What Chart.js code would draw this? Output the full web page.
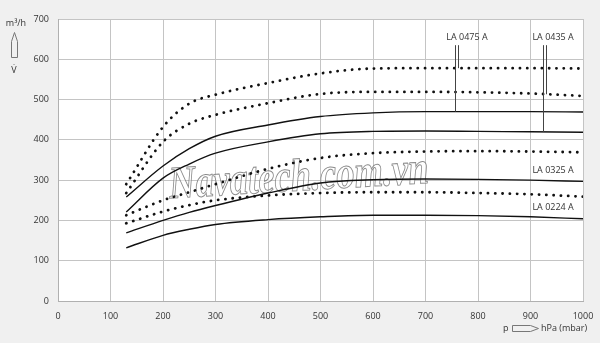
<!DOCTYPE html>
<html>
<head>
<meta charset="utf-8">
<script src="https://cdn.jsdelivr.net/npm/chart.js@4/dist/chart.umd.min.js"></script>
<style>
  html, body { margin: 0; padding: 0; background: #f0f0f0; }
  #wrap { width: 600px; height: 343px; position: relative; }
</style>
</head>
<body>
<div id="wrap"><canvas id="c" width="600" height="343"></canvas></div>
<script>
// ---- data ----
const pressure   = [130, 200, 250, 300, 400, 500, 600, 700, 800, 900, 1000];
const la0475Max  = [290, 432, 490, 512, 541, 565, 577, 578, 578, 578, 577];
const la0435Max  = [268, 395, 440, 462, 491, 514, 519, 519, 518, 515, 509];
const la0475     = [258, 335, 378, 409, 437, 458, 467, 470, 470, 470, 469];
const la0435     = [221, 305, 340, 367, 395, 415, 421, 422, 421, 420, 419];
const la0325Max  = [213, 250, 270, 290, 328, 355, 367, 371, 372, 371, 369];
const la0224Max  = [193, 222, 238, 250, 262, 268, 270, 270, 268, 265, 259];
const la0325     = [169, 200, 220, 237, 268, 293, 301, 303, 302, 300, 297];
const la0224     = [132, 163, 178, 190, 202, 209, 213, 213, 212, 209, 204];

const xTicks = [0, 100, 200, 300, 400, 500, 600, 700, 800, 900, 1000];
const yTicks = [0, 100, 200, 300, 400, 500, 600, 700];

const yUnit = "m³/h";
const ySymbol = "V̇";
const xSymbol = "p";
const xUnit = "hPa (mbar)";
const watermark = "Navatech.com.vn";

// callouts: label, label x (hPa), label y (m³/h), leader lines [x, series]
const callouts = [
  { text: "LA 0475 A", x: 779, y: 653, leaders: [[756, la0475], [762, la0475Max]] },
  { text: "LA 0435 A", x: 943, y: 653, leaders: [[924, la0435], [930, la0435Max]] },
  { text: "LA 0325 A", x: 943, y: 325, leaders: [] },
  { text: "LA 0224 A", x: 943, y: 233, leaders: [] }
];

function pts(vals) { return pressure.map((p, i) => ({ x: p, y: vals[i] })); }
function valueAt(series, x) {
  for (let i = 0; i < pressure.length - 1; i++) {
    if (x >= pressure[i] && x <= pressure[i + 1]) {
      const t = (x - pressure[i]) / (pressure[i + 1] - pressure[i]);
      return series[i] + t * (series[i + 1] - series[i]);
    }
  }
  return series[series.length - 1];
}

const dotted = { borderColor: "#111", borderWidth: 2.8, borderDash: [0.1, 7.2], borderCapStyle: "round", pointRadius: 0, fill: false, cubicInterpolationMode: "monotone" };
const solid  = { borderColor: "#111", borderWidth: 1.4, pointRadius: 0, fill: false, cubicInterpolationMode: "monotone" };

const FONT = "'Open Sans', 'Noto Sans', sans-serif";

const decor = {
  id: "decor",
  beforeDraw(chart) {
    const { ctx, chartArea: a } = chart;
    ctx.save();
    ctx.fillStyle = "#ffffff";
    ctx.fillRect(a.left, a.top, a.right - a.left, a.bottom - a.top);
    ctx.restore();
  },
  beforeDatasetsDraw(chart) {
    const { ctx, scales: { x, y } } = chart;
    ctx.save();
    // watermark
    ctx.font = "italic bold 46px 'Liberation Serif', 'DejaVu Serif', serif";
    ctx.textBaseline = "alphabetic";
    ctx.textAlign = "left";
    const x0 = x.getPixelForValue(213), x1 = x.getPixelForValue(708);
    const w = ctx.measureText(watermark).width;
    ctx.translate(x0, y.getPixelForValue(255));
    ctx.rotate(-0.06);
    ctx.scale((x1 - x0) / w, 1);
    ctx.fillStyle = "rgba(255,255,255,0.55)";
    ctx.fillText(watermark, 0, 0);
    ctx.strokeStyle = "rgba(110,110,110,0.8)";
    ctx.lineWidth = 1;
    ctx.strokeText(watermark, 0, 0);
    ctx.restore();
  },
  afterDatasetsDraw(chart) {
    const { ctx, scales: { x, y } } = chart;
    ctx.save();
    ctx.font = "9px " + FONT;
    ctx.fillStyle = "#333";
    ctx.textAlign = "center";
    ctx.textBaseline = "middle";
    ctx.strokeStyle = "#444";
    ctx.lineWidth = 1;
    callouts.forEach(c => {
      ctx.fillText(c.text, x.getPixelForValue(c.x), y.getPixelForValue(c.y));
      c.leaders.forEach(([lx, s]) => {
        const px = Math.round(x.getPixelForValue(lx)) + 0.5;
        ctx.beginPath();
        ctx.moveTo(px, y.getPixelForValue(c.y - 18));
        ctx.lineTo(px, y.getPixelForValue(valueAt(s, lx)));
        ctx.stroke();
      });
    });
    ctx.restore();
  },
  afterDraw(chart) {
    const { ctx } = chart;
    ctx.save();
    ctx.fillStyle = "#333";
    ctx.font = "9px " + FONT;
    ctx.textBaseline = "middle";
    ctx.textAlign = "center";
    // y axis title
    ctx.fillText(yUnit, 16, 23);
    ctx.fillText(ySymbol, 14, 70);
    // up arrow outline
    ctx.strokeStyle = "#777";
    ctx.lineWidth = 1;
    ctx.beginPath();
    ctx.moveTo(11.5, 57.5); ctx.lineTo(11.5, 41.5); ctx.lineTo(14.5, 32.5);
    ctx.lineTo(17.5, 41.5); ctx.lineTo(17.5, 57.5); ctx.closePath();
    ctx.stroke();
    // x axis title
    ctx.textAlign = "left";
    ctx.fillText(xSymbol, 503, 328);
    ctx.beginPath();
    ctx.moveTo(512.5, 325.5); ctx.lineTo(530.5, 325.5); ctx.lineTo(538.5, 328.5);
    ctx.lineTo(530.5, 331.5); ctx.lineTo(512.5, 331.5); ctx.closePath();
    ctx.stroke();
    ctx.fillText(xUnit, 541, 328);
    ctx.restore();
  }
};

new Chart(document.getElementById("c"), {
  type: "line",
  data: {
    datasets: [
      { label: "LA 0475 A max", data: pts(la0475Max), ...dotted },
      { label: "LA 0435 A max", data: pts(la0435Max), ...dotted },
      { label: "LA 0475 A", data: pts(la0475), ...solid },
      { label: "LA 0435 A", data: pts(la0435), ...solid },
      { label: "LA 0325 A max", data: pts(la0325Max), ...dotted },
      { label: "LA 0224 A max", data: pts(la0224Max), ...dotted },
      { label: "LA 0325 A", data: pts(la0325), ...solid },
      { label: "LA 0224 A", data: pts(la0224), ...solid }
    ]
  },
  options: {
    responsive: false,
    animation: false,
    layout: { padding: { top: 19, right: 17, left: 0, bottom: 0 } },
    plugins: { legend: { display: false }, tooltip: { enabled: false } },
    scales: {
      x: {
        type: "linear", min: 0, max: 1000,
        afterBuildTicks: s => { s.ticks = xTicks.map(v => ({ value: v })); },
        afterFit: s => { s.height = 42; s.paddingLeft = 0; s.paddingRight = 0; },
        grid: { color: "#c4c4c4", lineWidth: 1, drawTicks: false },
        border: { color: "#b0b0b0" },
        ticks: { color: "#333", font: { size: 9, family: FONT }, padding: 10, maxRotation: 0, callback: v => String(v) }
      },
      y: {
        type: "linear", min: 0, max: 700,
        afterBuildTicks: s => { s.ticks = yTicks.map(v => ({ value: v })); },
        afterFit: s => { s.width = 58; s.paddingTop = 0; s.paddingBottom = 0; },
        grid: { color: "#c4c4c4", lineWidth: 1, drawTicks: false },
        border: { color: "#b0b0b0" },
        ticks: { color: "#333", font: { size: 9, family: FONT }, padding: 9, callback: v => String(v) }
      }
    }
  },
  plugins: [decor]
});
</script>
</body>
</html>
